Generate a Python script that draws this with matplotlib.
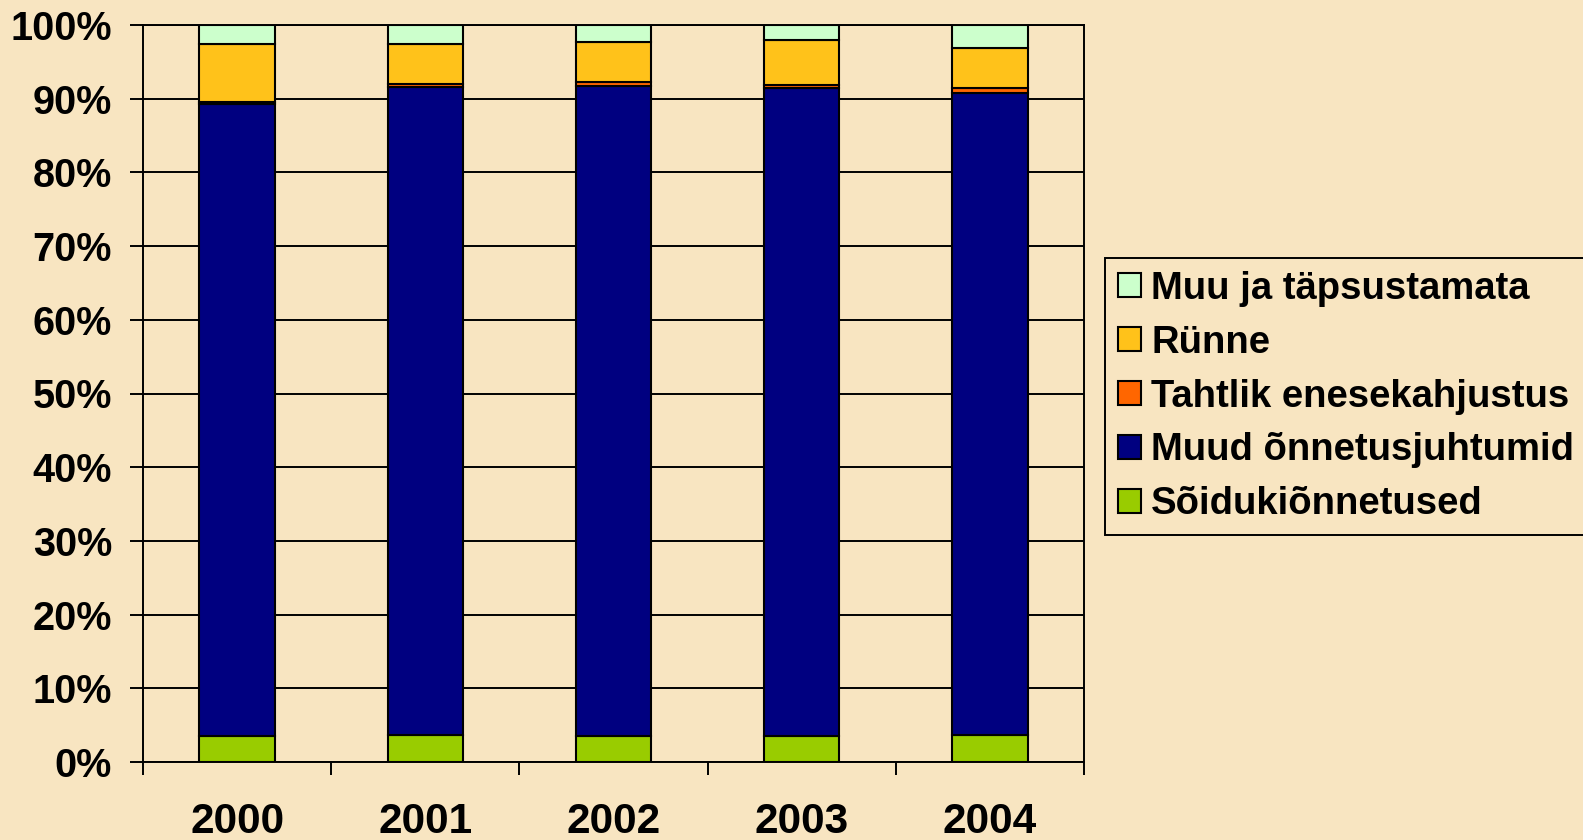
import matplotlib
matplotlib.use("Agg")
import matplotlib.pyplot as plt
import numpy as np
from matplotlib.ticker import FixedLocator, PercentFormatter

years = ["2000", "2001", "2002", "2003", "2004"]
soidukionnetused = [3.5, 3.7, 3.5, 3.5, 3.7]
muud_onnetusjuhtumid = [85.8, 87.9, 88.2, 87.9, 87.1]
tahtlik_enesekahjustus = [0.3, 0.4, 0.6, 0.5, 0.6]
runne = [7.8, 5.4, 5.4, 6.1, 5.5]
muu_tapsustamata = [2.6, 2.6, 2.3, 2.0, 3.1]

series = [
    ("Sõidukiõnnetused", soidukionnetused, "#99CC00"),
    ("Muud õnnetusjuhtumid", muud_onnetusjuhtumid, "#000080"),
    ("Tahtlik enesekahjustus", tahtlik_enesekahjustus, "#FF6600"),
    ("Rünne", runne, "#FFC21A"),
    ("Muu ja täpsustamata", muu_tapsustamata, "#CCFFCC"),
]

bg = "#F8E5C1"
plt.rcParams['font.family'] = ['Liberation Sans', 'DejaVu Sans']
plt.rcParams['font.weight'] = 'bold'

fig = plt.figure(figsize=(15.83, 8.40), dpi=100, facecolor=bg)
ax = fig.add_axes([143/1583, 1-762/840, (1084-143)/1583, (762-25)/840])
ax.set_facecolor(bg)

x = np.arange(len(years))
bottom = np.zeros(len(years))
handles = []
for name, vals, col in series:
    b = ax.bar(x, vals, bottom=bottom, width=0.40, color=col, edgecolor="black",
               linewidth=1.5, label=name, zorder=3)
    handles.append(b)
    bottom += np.array(vals)

ax.set_xlim(-0.5, len(years) - 0.5)
ax.set_ylim(0, 100)
ax.yaxis.set_major_locator(FixedLocator(np.arange(0, 101, 10)))
ax.yaxis.set_major_formatter(PercentFormatter(decimals=0))
ax.grid(axis="y", color="black", linewidth=1.4, zorder=0)
for s in ax.spines.values():
    s.set_color("black")
    s.set_linewidth(1.4)

ax.tick_params(axis="y", direction="out", length=9.4, width=1.4, pad=13, labelsize=28.5)
ax.set_xticks(x)
ax.set_xticklabels(years, fontsize=30.5, fontweight="bold")
ax.tick_params(axis="x", which="major", length=0, pad=29)
ax.set_xticks(np.arange(-0.5, len(years), 1.0), minor=True)
ax.tick_params(axis="x", which="minor", direction="out", length=9.4, width=1.4)
for lab in ax.get_yticklabels():
    lab.set_fontweight("bold")

leg = fig.legend(handles[::-1], [s[0] for s in series][::-1],
                 loc="upper left", bbox_to_anchor=(1105/1583, 1-258/840),
                 fontsize=27.5, frameon=True, fancybox=False, edgecolor="black",
                 facecolor=bg, framealpha=1, handlelength=0.6, handleheight=0.6,
                 handletextpad=0.28, labelspacing=0.47, borderpad=0.33,
                 borderaxespad=0)
leg.get_frame().set_linewidth(1.4)
for t in leg.get_texts():
    t.set_fontweight("bold")

fig.savefig("out.png", dpi=100, facecolor=bg)
